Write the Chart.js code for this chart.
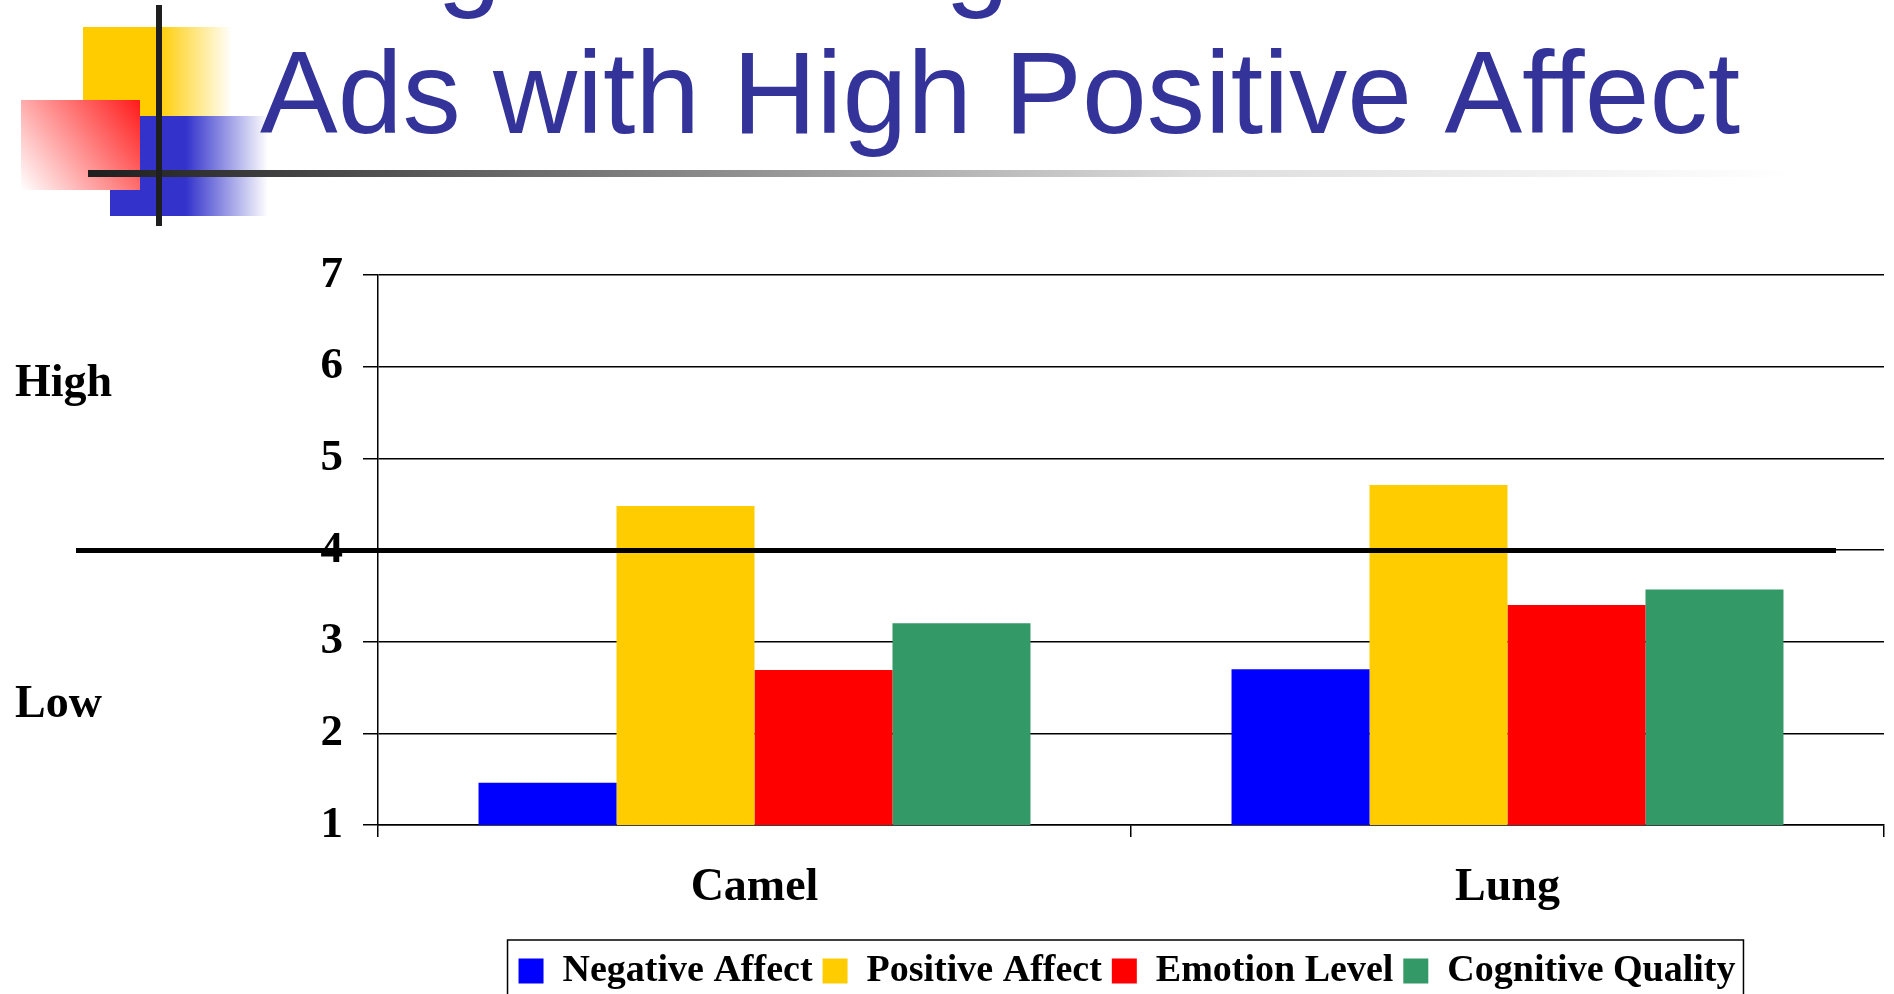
<!DOCTYPE html>
<html>
<head>
<meta charset="utf-8">
<script src="https://cdn.jsdelivr.net/npm/chart.js@4.4.1/dist/chart.umd.min.js"></script>
<style>
  html, body { margin: 0; padding: 0; background: #fff; }
  #wrap { width: 1894px; height: 994px; position: relative; }
</style>
</head>
<body>
<div id="wrap"><canvas id="chart"></canvas></div>
<script>
  // data
  const categories = ['Camel', 'Lung'];
  const negativeAffect = [1.46, 2.70];
  const positiveAffect = [4.48, 4.71];
  const emotionLevel = [2.69, 3.40];
  const cognitiveQuality = [3.20, 3.57];
  const seriesNames = ['Negative Affect', 'Positive Affect', 'Emotion Level', 'Cognitive Quality'];
  const yMin = 1, yMax = 7, yStep = 1;
  const threshold = 4;
  const titleText = 'Ads with High Positive Affect';

  const COLORS = {
    blue: '#0000FF', yellow: '#FFCC00', red: '#FF0000', green: '#339966',
    title: '#333399', ink: '#000000',
  };
  const SERIF = "'Liberation Serif', 'Times New Roman', serif";
  const SANS = "'Liberation Sans', Arial, sans-serif";

  // slide decoration + title, painted under the chart
  const slideDecor = {
    id: 'slideDecor',
    beforeDraw(chart) {
      const ctx = chart.ctx;
      ctx.save();
      let g = ctx.createLinearGradient(83, 0, 232, 0);
      g.addColorStop(0, '#FFCC00'); g.addColorStop(0.5, '#FFCC00'); g.addColorStop(1, '#FFFFFF');
      ctx.fillStyle = g; ctx.fillRect(83, 27, 149, 89);

      g = ctx.createLinearGradient(110, 0, 268, 0);
      g.addColorStop(0, '#3333CC'); g.addColorStop(0.48, '#3333CC'); g.addColorStop(1, '#FFFFFF');
      ctx.fillStyle = g; ctx.fillRect(110, 116, 158, 100);

      g = ctx.createLinearGradient(140, 100, 21, 190);
      g.addColorStop(0, '#FF1A1A'); g.addColorStop(1, '#FFFFFF');
      ctx.fillStyle = g; ctx.fillRect(21, 100, 119, 90);

      g = ctx.createLinearGradient(88, 0, 1794, 0);
      g.addColorStop(0, '#1E1E1E'); g.addColorStop(0.36, '#8A8A8A');
      g.addColorStop(0.65, '#DDDDDD'); g.addColorStop(1, '#FFFFFF');
      ctx.fillStyle = g; ctx.fillRect(88, 170, 1706, 7);

      ctx.fillStyle = '#1E1E1E';
      ctx.fillRect(156, 5, 6, 221);

      // title: first line sits above the slide edge, only descenders show
      ctx.font = `116px ${SANS}`;
      ctx.fillStyle = COLORS.title;
      ctx.textBaseline = 'alphabetic';
      ctx.fillText('g', 437, -5);
      ctx.fillText('g', 945, -5);
      const w = ctx.measureText(titleText).width;
      ctx.translate(260, 133);
      ctx.scale(1480 / w, 1);
      ctx.fillText(titleText, 0, 0);
      ctx.restore();
    },
  };

  // slide legend is centred under the plot area, not the whole canvas
  const legendShift = {
    id: 'legendShift',
    afterLayout(chart) {
      if (chart.legend) chart.legend.left += 370;
    },
  };

  // thick reference line at the scale midpoint
  const midLine = {
    id: 'midLine',
    afterDatasetsDraw(chart) {
      const ctx = chart.ctx;
      const y = chart.scales.y.getPixelForValue(threshold);
      ctx.save();
      ctx.fillStyle = COLORS.ink;
      ctx.fillRect(76, Math.round(y) - 2, chart.chartArea.right - 48 - 76, 5);
      ctx.restore();
    },
  };

  // "High" / "Low" side notes and legend frame
  const extras = {
    id: 'extras',
    afterDraw(chart) {
      const ctx = chart.ctx;
      const ys = chart.scales.y;
      ctx.save();
      ctx.fillStyle = COLORS.ink;
      ctx.font = `bold 46px ${SERIF}`;
      ctx.textBaseline = 'alphabetic';
      ctx.textAlign = 'left';
      ctx.fillText('High', 15, ys.getPixelForValue(5.68));
      ctx.fillText('Low', 15, ys.getPixelForValue(2.18));

      const boxes = chart.legend.legendHitBoxes;
      if (boxes && boxes.length) {
        const left = Math.min(...boxes.map(b => b.left)) - 11;
        const right = Math.max(...boxes.map(b => b.left + b.width)) + 8;
        const top = Math.min(...boxes.map(b => b.top)) - 12;
        ctx.strokeStyle = COLORS.ink;
        ctx.lineWidth = 1.5;
        ctx.strokeRect(left, top, right - left, chart.height - top + 20);
      }
      ctx.restore();
    },
  };

  const barStyle = { borderWidth: 0, categoryPercentage: 0.733, barPercentage: 1.0 };

  new Chart(document.getElementById('chart'), {
    type: 'bar',
    data: {
      labels: categories,
      datasets: [
        { label: seriesNames[0], data: negativeAffect, backgroundColor: COLORS.blue, ...barStyle },
        { label: seriesNames[1], data: positiveAffect, backgroundColor: COLORS.yellow, ...barStyle },
        { label: seriesNames[2], data: emotionLevel, backgroundColor: COLORS.red, ...barStyle },
        { label: seriesNames[3], data: cognitiveQuality, backgroundColor: COLORS.green, ...barStyle },
      ],
    },
    options: {
      responsive: true, maintainAspectRatio: false, animation: false,
      layout: { padding: { left: 0, right: 10, top: 275, bottom: -6 } },
      plugins: {
        title: { display: false },
        tooltip: { enabled: false },
        legend: {
          position: 'bottom',
          labels: {
            color: COLORS.ink, boxWidth: 25, boxHeight: 25, padding: 10,
            font: { family: SERIF, size: 38, weight: 'bold' },
          },
        },
      },
      scales: {
        x: {
          grid: { drawOnChartArea: false, drawTicks: true, tickLength: 12, color: COLORS.ink, lineWidth: 1.5 },
          border: { color: COLORS.ink, width: 1.5 },
          ticks: { color: COLORS.ink, padding: 24, font: { family: SERIF, size: 46, weight: 'bold' } },
          afterFit(scale) { scale.height = 117; },
        },
        y: {
          min: yMin, max: yMax,
          grid: { color: COLORS.ink, lineWidth: 1.5, tickLength: 15, drawTicks: true },
          border: { color: COLORS.ink, width: 1.5 },
          ticks: { stepSize: yStep, color: COLORS.ink, padding: 20, font: { family: SERIF, size: 45, weight: 'bold' } },
          afterFit(scale) { scale.width = 378; },
        },
      },
    },
    plugins: [slideDecor, legendShift, midLine, extras],
  });
</script>
</body>
</html>
